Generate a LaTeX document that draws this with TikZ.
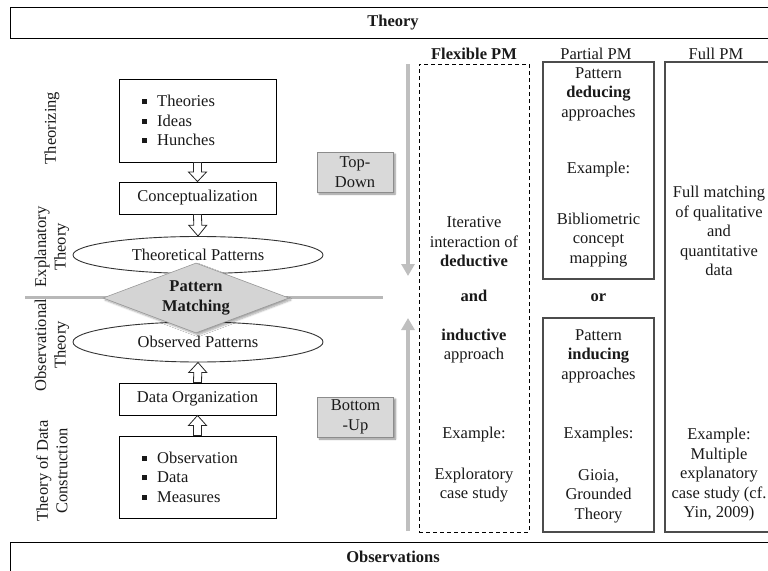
\documentclass[tikz,border=0pt]{standalone}
\usepackage{fontspec}
\setmainfont{Liberation Serif}
\usetikzlibrary{shapes.geometric,calc,shadows.blur,arrows.meta}
\newcommand\sqbul{\raisebox{2.5pt}{\rule{5pt}{5pt}}\hspace{10pt}}
\begin{document}
\begin{tikzpicture}[x=1pt,y=-1pt,
  every node/.style={font=\fontsize{16.5}{19.5}\selectfont, inner sep=0pt, text=black!90},
  box/.style={draw=black, line width=0.9pt, fill=white},
  bar/.style={draw=black, line width=1pt},
  colbox/.style={draw=black!70, line width=1.1pt},
  flexbox/.style={draw=black, line width=0.9pt, dash pattern=on 4pt off 3pt},
  patt/.style={ellipse, draw=black!80, line width=0.9pt, fill=white, minimum width=250pt},
  flow/.style={draw=black!85, line width=0.8pt, fill=white, to path={
    ($(\tikztostart)+(-4pt,0)$) -- ($(\tikztostart)!0.5!(\tikztotarget)+(-4pt,0)$)
    -- ($(\tikztostart)!0.5!(\tikztotarget)+(-9pt,0)$) -- (\tikztotarget)
    -- ($(\tikztostart)!0.5!(\tikztotarget)+(9pt,0)$) -- ($(\tikztostart)!0.5!(\tikztotarget)+(4pt,0)$)
    -- ($(\tikztostart)+(4pt,0)$) -- cycle}},
  tag/.style={draw=black!45, fill=black!15, line width=0.6pt, minimum width=76pt, minimum height=40pt, align=center,
    blur shadow={shadow xshift=2pt, shadow yshift=-2pt, shadow blur steps=6, shadow opacity=45}},
  guide/.style={draw=black!25, line width=4.5pt, -{Triangle[length=12pt,width=13pt]}},
  divider/.style={draw=black!28, line width=3pt},
  side/.style={rotate=90, align=center},
  txt/.style={align=center},
  head/.style={align=center}
]
\useasboundingbox (0,0) rectangle (768,570);
\clip (0,0) rectangle (768,570);

% top and bottom bands
\node[bar, anchor=north west, minimum width=780pt, minimum height=31pt] (theoryband) at (10,7) {};
\node[font=\fontsize{16.5}{19.5}\selectfont\bfseries] (theorylbl) at (393,22.5) {Theory};
\node[bar, anchor=north west, minimum width=780pt, minimum height=60pt] (obsband) at (10,542) {};
\node[font=\fontsize{16.5}{19.5}\selectfont\bfseries] (obslbl) at (393,557) {Observations};

% side labels
\node[side] (lthz) at (52,128) {Theorizing};
\node[side] (lexp) at (52,247) {Explanatory\\Theory};
\node[side] (lobs) at (52,345) {Observational\\Theory};
\node[side] (ldat) at (52,471) {Theory of Data\\Construction};

% divider between theory and observation side
\coordinate (divl) at (25,297);
\coordinate (divr) at (383,297);
\draw[divider] (divl) -- (divr);

% left flow chart
\node[box, minimum width=157pt, minimum height=83pt] (ideas) at (197.5,120.5) {};
\node[anchor=west, align=left] (ideastxt) at (142,120.5) {\sqbul Theories\\\sqbul Ideas\\\sqbul Hunches};
\node[box, minimum width=157pt, minimum height=32pt] (concept) at (197.5,198) {Conceptualization};
\node[patt, minimum height=37pt] (theopat) at (198,255) {Theoretical Patterns};
\node[patt, minimum height=40pt] (obspat) at (198,342) {Observed Patterns};
\node[box, minimum width=157pt, minimum height=32pt] (dataorg) at (197.5,399) {Data Organization};
\node[box, minimum width=157pt, minimum height=82pt] (obsbox) at (197.5,477) {};
\node[anchor=west, align=left] (obstxt) at (142,477) {\sqbul Observation\\\sqbul Data\\\sqbul Measures};

\draw[flow] (ideas.south) to (concept.north);
\draw[flow] (concept.south) to (theopat.north);
\draw[flow] (obsbox.north) to (dataorg.south);
\draw[flow] (dataorg.north) to (obspat.south);

\node[diamond, draw=black!40, fill=black!17, line width=0.6pt, minimum width=186pt, minimum height=70pt, aspect=2.66,
  align=center, font=\fontsize{16.5}{19.5}\selectfont\bfseries,
  blur shadow={shadow xshift=2pt, shadow yshift=-2pt, shadow blur steps=6, shadow opacity=35}] (pm) at (196,298) {Pattern\\Matching};

% direction tags and arrows
\node[tag] (topdown) at (355,172) {Top-\\Down};
\node[tag] (bottomup) at (355.5,417) {Bottom\\-Up};
\coordinate (dstart) at (408,64);
\coordinate (dend) at (408,276);
\coordinate (ustart) at (408,531);
\coordinate (uend) at (408,318);
\draw[guide] (dstart) -- (dend);
\draw[guide] (ustart) -- (uend);

% column headers
\node[head, font=\fontsize{16.5}{19.5}\selectfont\bfseries] (hflex) at (474,54) {Flexible PM};
\node[head] (hpart) at (596,54) {Partial PM};
\node[head] (hfull) at (716,54) {Full PM};

% flexible PM column
\node[flexbox, minimum width=110pt, minimum height=468pt] (flex) at (474,298) {};
\node[txt] (flex1) at (474,242) {Iterative\\interaction of\\\textbf{deductive}};
\node[txt, font=\fontsize{16.5}{19.5}\selectfont\bfseries] (flex2) at (474,296) {and};
\node[txt] (flex3) at (474,346) {\textbf{inductive}\\approach};
\node[txt] (flex4) at (474,435) {Example:};
\node[txt] (flex5) at (474,485) {Exploratory\\case study};

% partial PM column
\node[colbox, minimum width=111pt, minimum height=217pt] (partup) at (598.5,170.5) {};
\node[txt] (pu1) at (598.5,94) {Pattern\\\textbf{deducing}\\approaches};
\node[txt] (pu2) at (598.5,170) {Example:};
\node[txt] (pu3) at (598.5,240) {Bibliometric\\concept\\mapping};
\node[txt, font=\fontsize{16.5}{19.5}\selectfont\bfseries] (por) at (598.5,298) {or};
\node[colbox, minimum width=111pt, minimum height=214pt] (partdown) at (598.5,425) {};
\node[txt] (pd1) at (598.5,356) {Pattern\\\textbf{inducing}\\approaches};
\node[txt] (pd2) at (598.5,435) {Examples:};
\node[txt] (pd3) at (598.5,496) {Gioia,\\Grounded\\Theory};

% full PM column
\node[colbox, minimum width=110pt, minimum height=470pt] (full) at (720,297) {};
\node[txt] (fu1) at (719,231) {Full matching\\of qualitative\\and\\quantitative\\data};
\node[txt] (fu2) at (719,475) {Example:\\Multiple\\explanatory\\case study (cf.\\Yin, 2009)};
\end{tikzpicture}
\end{document}
